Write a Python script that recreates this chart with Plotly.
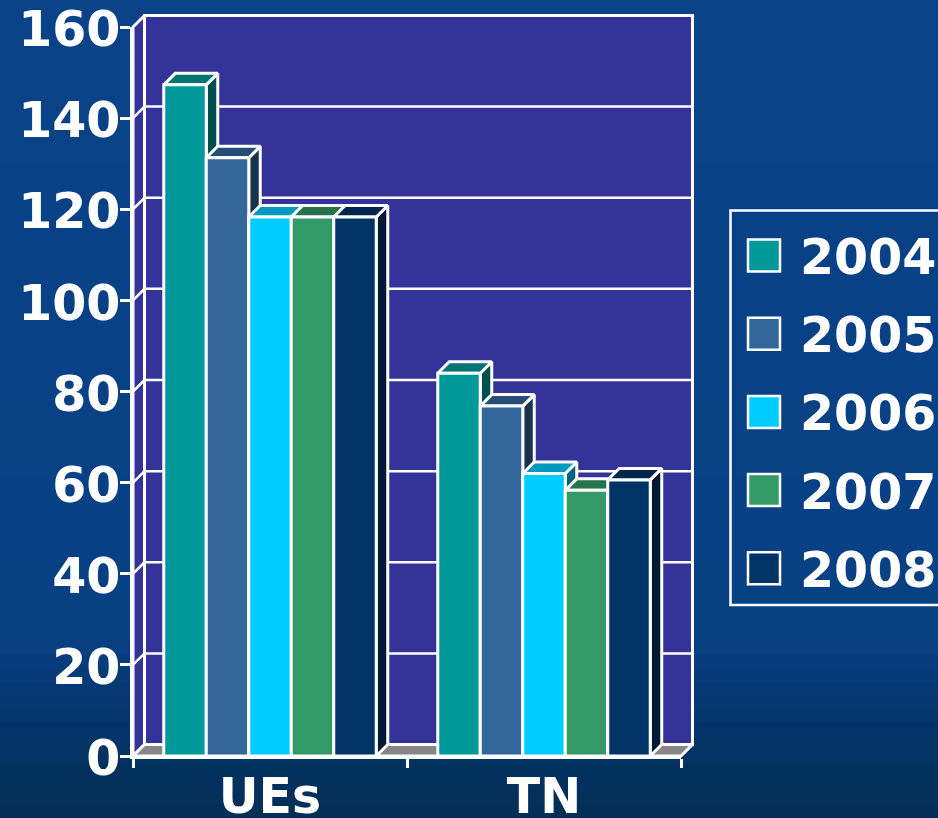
import plotly.graph_objects as go

categories = ["UEs", "TN"]
series_names = ["2004", "2005", "2006", "2007", "2008"]
values_2004 = [147.3, 84.0]
values_2005 = [131.3, 76.8]
values_2006 = [118.3, 62.0]
values_2007 = [118.3, 58.3]
values_2008 = [118.3, 60.6]
series_values = [values_2004, values_2005, values_2006, values_2007, values_2008]
front_colors = ["#009999", "#336699", "#00CCFF", "#339966", "#003366"]
top_colors = ["#007373", "#264D73", "#0099BF", "#26734D", "#00264D"]
side_colors = ["#004D4D", "#1A334D", "#00667F", "#1A4D33", "#001A33"]
y_ticks = [0, 20, 40, 60, 80, 100, 120, 140, 160]

W, H = 938, 818
X0, X1, Y0, Y160 = 133, 681, 756, 27
WALL = "#333399"
FLOOR = "#868686"
WHITE = "#FFFFFF"
FONT = "DejaVu Sans"
FS = 49
BARGAP = 0.2245
LW = 3

xl, xr = -0.5, 1.5
ymax = y_ticks[-1]
xs = (xr - xl) / (X1 - X0)
ys = ymax / (Y0 - Y160)
dx = 11.5 * xs
dy = 11.5 * ys
bar_w = (1 - BARGAP) / len(series_names)

bg_stops = [(0.0, (10, 66, 136)), (0.78, (8, 64, 132)), (0.88, (4, 52, 106)), (1.0, (3, 46, 84))]


def bg_color(t):
    for (t0, c0), (t1, c1) in zip(bg_stops, bg_stops[1:]):
        if t <= t1:
            f = (t - t0) / (t1 - t0)
            return "rgb(%d,%d,%d)" % tuple(round(a + (b - a) * f) for a, b in zip(c0, c1))
    return "rgb(%d,%d,%d)" % bg_stops[-1][1]


fig = go.Figure()


def poly(xv, yv, fill, lw=LW):
    fig.add_trace(go.Scatter(
        x=xv, y=yv, mode="lines", fill="toself", fillcolor=fill,
        line=dict(color=WHITE, width=lw), hoverinfo="skip", showlegend=False, xaxis="x", yaxis="y"))


# side wall, back wall, floor
poly([xl, xl + dx, xl + dx, xl, xl], [0, dy, ymax + dy, ymax, 0], WALL)
poly([xl + dx, xr + dx, xr + dx, xl + dx, xl + dx], [dy, dy, ymax + dy, ymax + dy, dy], WALL)
poly([xl, xr, xr + dx, xl + dx, xl], [0, 0, dy, dy, 0], FLOOR)
# gridlines wrapping from the side wall on to the back wall
for v in y_ticks[1:-1]:
    fig.add_trace(go.Scatter(
        x=[xl, xl + dx, xr + dx], y=[v, v + dy, v + dy], mode="lines",
        line=dict(color=WHITE, width=2.5), hoverinfo="skip", showlegend=False, xaxis="x", yaxis="y"))

# depth faces, painted left to right
for c in range(len(categories)):
    start = c - (1 - BARGAP) / 2
    for s, vals in enumerate(series_values):
        a = start + s * bar_w
        b = a + bar_w
        v = vals[c]
        poly([b, b + dx, b + dx, b, b], [0, dy, v + dy, v, 0], side_colors[s])
        poly([a, b, b + dx, a + dx, a], [v, v, v + dy, v + dy, v], top_colors[s])

# front faces
for s, name in enumerate(series_names):
    fig.add_trace(go.Bar(
        name=name, x=categories, y=series_values[s], xaxis="x2", yaxis="y2",
        marker=dict(color=front_colors[s], line=dict(color=WHITE, width=LW)),
        showlegend=False))

shapes = []
strips = 60
for i in range(strips):
    shapes.append(dict(type="rect", xref="paper", yref="paper", layer="below",
                       x0=-0.01, x1=1.01, y0=1 - (i + 1.02) / strips, y1=1 - i / strips,
                       line=dict(width=0), fillcolor=bg_color((i + 0.5) / strips)))

px = lambda p: p / W
py = lambda p: 1 - p / H
# legend frame
shapes.append(dict(type="rect", xref="paper", yref="paper", x0=px(730.5), x1=px(960), y0=py(605), y1=py(210.5),
                   line=dict(color=WHITE, width=2.5)))
annotations = []
LEG_Y0, LEG_STEP = 255.5, 78.2
for s, name in enumerate(series_names):
    cy = LEG_Y0 + s * LEG_STEP
    shapes.append(dict(type="rect", xref="paper", yref="paper", x0=px(748), x1=px(780),
                       y0=py(cy + 16), y1=py(cy - 16), fillcolor=front_colors[s],
                       line=dict(color=WHITE, width=2.5)))
    annotations.append(dict(xref="paper", yref="paper", x=px(798), y=py(cy + 2), xanchor="left", yanchor="middle",
                            text=name, showarrow=False, font=dict(family=FONT, size=FS, color=WHITE, weight=700)))

domx = [px(X0), px(X1)]
domy = [py(Y0), py(Y160)]
fig.update_layout(
    template="none",
    width=W, height=H, margin=dict(l=0, r=0, t=0, b=0, pad=0), autosize=False,
    paper_bgcolor="#0A4288", plot_bgcolor="rgba(0,0,0,0)",
    barmode="group", bargap=BARGAP, bargroupgap=0, showlegend=False,
    shapes=shapes, annotations=annotations,
    xaxis=dict(domain=[0, 1], range=[xl - X0 * xs, xl + (W - X0) * xs], visible=False, fixedrange=True,
               automargin=False),
    yaxis=dict(domain=[0, 1], range=[-(H - Y0) * ys, Y0 * ys], visible=False, fixedrange=True,
               automargin=False),
    xaxis2=dict(domain=domx, anchor="y2", type="category", categoryorder="array",
                categoryarray=categories, range=[xl, xr], tickson="boundaries", ticks="outside",
                ticklen=9, tickwidth=2.5, tickcolor=WHITE, showline=True, linecolor=WHITE, linewidth=2.8,
                showgrid=False, zeroline=False, fixedrange=True, automargin=False, ticklabelstandoff=-5,
                ticklabeloverflow="allow",
                tickfont=dict(family=FONT, size=FS, color=WHITE, weight=700)),
    yaxis2=dict(domain=domy, anchor="x2", side="left", range=[0, ymax], tickvals=y_ticks,
                ticks="outside", ticklen=10, tickwidth=2.5, tickcolor=WHITE, showline=True, linecolor=WHITE,
                linewidth=2.5, showgrid=False, zeroline=False, fixedrange=True, ticklabelstandoff=-10,
                ticklabelshift=2, ticklabeloverflow="allow", automargin=False,
                tickfont=dict(family=FONT, size=FS, color=WHITE, weight=700)),
)

fig.write_html("out.html", config={"displayModeBar": False},
               post_script="document.body.style.margin='0';document.body.style.overflow='hidden';document.documentElement.style.overflow='hidden';")
